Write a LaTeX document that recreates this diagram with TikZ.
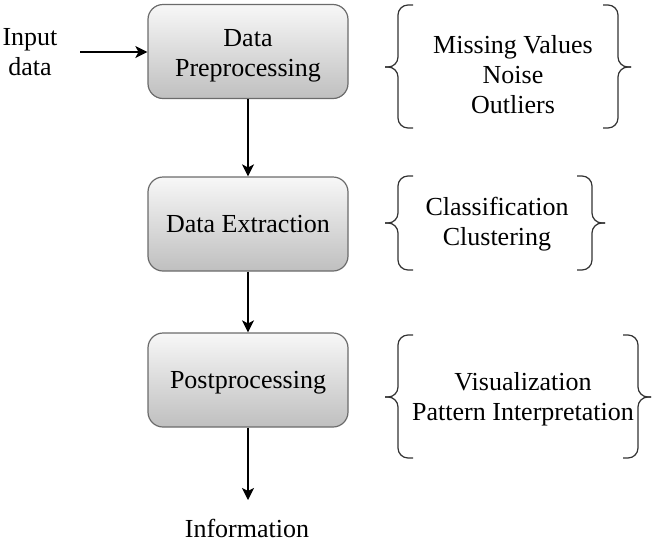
\documentclass[tikz,border=0pt]{standalone}
\usepackage{fontspec}
\setmainfont{Liberation Serif}
\usetikzlibrary{arrows.meta}
\newcommand{\myLBrace}[4]{% top y, bottom y, mid y, top x
  \draw[bracepath] (#4,#1) -- (#4-15,#1) -- (#4-15,#3) -- (#4-28,#3);
  \draw[bracepath] (#4,#2) -- (#4-15,#2) -- (#4-15,#3) -- (#4-28,#3);}
\newcommand{\myRBrace}[4]{%
  \draw[bracepath] (#4,#1) -- (#4+15,#1) -- (#4+15,#3) -- (#4+28,#3);
  \draw[bracepath] (#4,#2) -- (#4+15,#2) -- (#4+15,#3) -- (#4+28,#3);}
\begin{document}
\begin{tikzpicture}[x=1pt,y=-1pt,
  font=\fontsize{26}{30}\selectfont,
  procbox/.style={draw=black!58, line width=1.2pt, rounded corners=15pt,
    top color=black!3, bottom color=black!25, minimum width=200pt,
    minimum height=94pt, inner sep=0pt},
  lbl/.style={align=center, inner sep=0pt},
  flow/.style={line width=1.4pt, -{Stealth[length=12pt,width=12pt,inset=3pt]}},
  bracepath/.style={draw=black!80, line width=1.2pt, rounded corners=10pt}]
\useasboundingbox (0,0) rectangle (654,542);
\node[procbox] (pre) at (248,51.5) {};
\node[procbox] (ext) at (248,224) {};
\node[procbox] (post) at (248,380) {};
\node[lbl] (preT) at (248,56) {Data\\Preprocessing};
\node[lbl] (extT) at (248,224) {Data Extraction};
\node[lbl] (postT) at (248,383) {Postprocessing};
\node[lbl] (in) at (30,52) {Input\\data};
\coordinate (inend) at (80,52);
\node[lbl, anchor=base] (info) at (247,537) {Information};
\coordinate (infoend) at (248,500);
\draw[flow] (inend) -- (pre.west |- inend);
\draw[flow] (pre) -- (ext);
\draw[flow] (ext) -- (post);
\draw[flow] (post) -- (infoend);
% annotation texts
\node[lbl] (t1) at (513,75) {Missing Values\\Noise\\Outliers};
\node[lbl] (t2) at (497,224) {Classification\\Clustering};
\node[lbl] (t3) at (523,399) {Visualization\\Pattern Interpretation};
% braces
\myLBrace{5}{128}{67}{413}
\myRBrace{5}{128}{67}{603}
\myLBrace{176}{270}{223}{413}
\myRBrace{176}{270}{223}{577}
\myLBrace{335}{458}{397}{413}
\myRBrace{335}{458}{397}{623}
\end{tikzpicture}
\end{document}
